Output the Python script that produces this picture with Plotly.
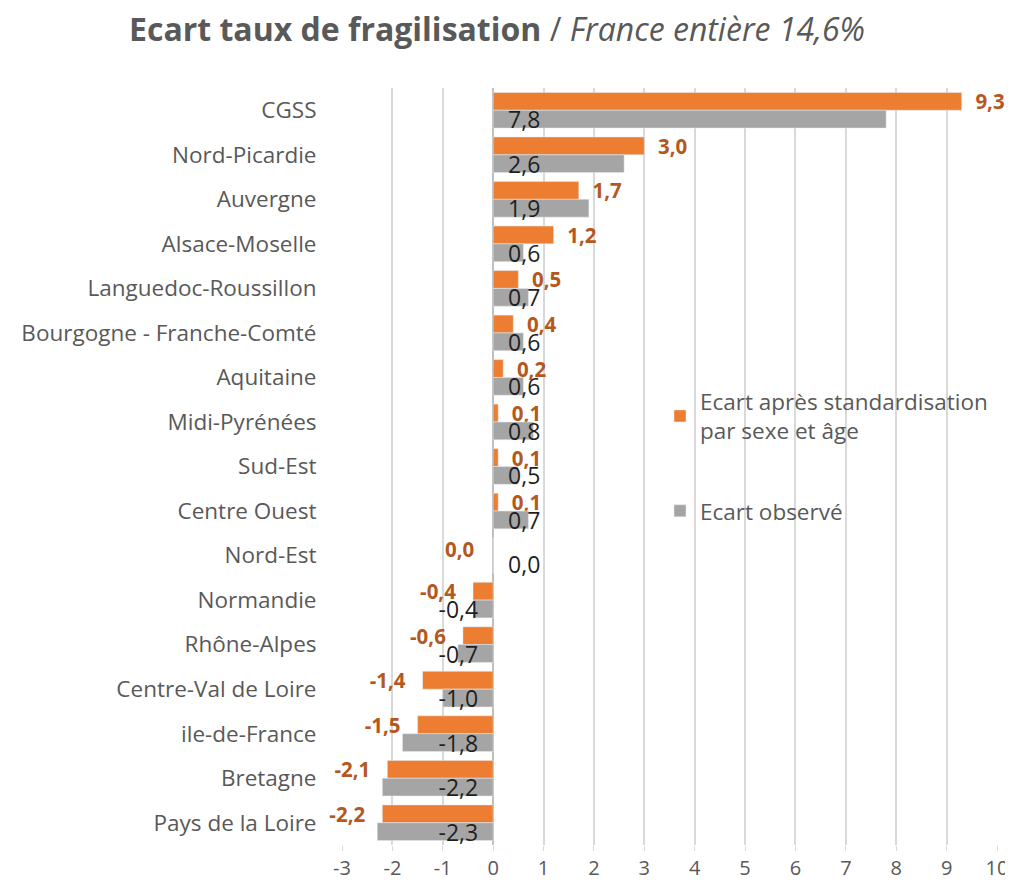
import plotly.graph_objects as go

categories = ["CGSS", "Nord-Picardie", "Auvergne", "Alsace-Moselle", "Languedoc-Roussillon",
              "Bourgogne - Franche-Comté", "Aquitaine", "Midi-Pyrénées", "Sud-Est", "Centre Ouest",
              "Nord-Est", "Normandie", "Rhône-Alpes", "Centre-Val de Loire", "ile-de-France",
              "Bretagne", "Pays de la Loire"]
ecart_standardise = [9.3, 3.0, 1.7, 1.2, 0.5, 0.4, 0.2, 0.1, 0.1, 0.1, 0.0,
                     -0.4, -0.6, -1.4, -1.5, -2.1, -2.2]
ecart_observe = [7.8, 2.6, 1.9, 0.6, 0.7, 0.6, 0.6, 0.8, 0.5, 0.7, 0.0,
                 -0.4, -0.7, -1.0, -1.8, -2.2, -2.3]
x_ticks = list(range(-3, 11))

FONT = "Open Sans"
GREY_TXT = "#595959"
ORANGE_TXT = "#B4581E"
NB = "\u00a0"


def fmt(v):
    return f"{v:.1f}".replace(".", ",")


# observed labels: inside, at the bar base (zero value -> outside, to the right)
text_obs = [(NB * 2 + fmt(v)) if v >= 0 else fmt(v) + NB * 2 for v in ecart_observe]
pos_obs = ["outside" if v == 0 else "inside" for v in ecart_observe]

# standardised labels: outside the bar end; a zero value is written on the left (annotation)
text_std = []
for v in ecart_standardise:
    if v > 0:
        text_std.append(NB * 2 + fmt(v))
    elif v < 0:
        text_std.append(fmt(v) + NB * 2 + "\u2009")
    else:
        text_std.append("")

fig = go.Figure()
fig.add_trace(go.Bar(
    y=categories, x=ecart_standardise, orientation="h",
    name="Ecart après standardisation<br>par sexe et âge",
    marker_color="#ED7D31", text=text_std, textposition="outside",
    constraintext="none", cliponaxis=False,
    textfont=dict(family=FONT, size=20.5, color=ORANGE_TXT, weight="bold"),
    legendgroup="a", legendrank=1,
))
fig.add_trace(go.Bar(
    y=categories, x=ecart_observe, orientation="h", name="Ecart observé",
    marker_color="#A5A5A5", text=text_obs, textposition=pos_obs,
    insidetextanchor="start", constraintext="none", cliponaxis=False,
    textfont=dict(family=FONT, size=23, color="#1f1f1f"),
    legendgroup="b", legendrank=2,
))

annotations = []
for cat, v in zip(categories, ecart_standardise):
    if v == 0:
        annotations.append(dict(
            x=v, y=cat, xref="x", yref="y", text="<b>" + fmt(v) + "</b>",
            showarrow=False, xanchor="right", yanchor="middle", xshift=-17, yshift=7,
            font=dict(family=FONT, size=20.5, color=ORANGE_TXT),
        ))

fig.update_layout(
    width=1005, height=876,
    paper_bgcolor="white", plot_bgcolor="white",
    barmode="group", bargap=0.2, bargroupgap=0,
    margin=dict(l=334, r=16, t=80, b=39, autoexpand=False),
    font=dict(family=FONT, color=GREY_TXT),
    title=dict(
        text="<b>Ecart taux de fragilisation</b> / <i>France entière 14,6%</i>",
        x=0.4866, xanchor="center", y=0.975, yanchor="middle",
        font=dict(family=FONT, size=32, color=GREY_TXT),
    ),
    legend=dict(
        x=0.4855, xanchor="left", y=0.614, yanchor="top",
        font=dict(family=FONT, size=22.5, color=GREY_TXT),
        tracegroupgap=48, bgcolor="rgba(0,0,0,0)",
    ),
    annotations=annotations,
)
fig.update_xaxes(
    range=[-3, 10], tickvals=x_ticks, ticktext=[str(t) for t in x_ticks],
    showgrid=True, gridcolor="#D9D9D9", gridwidth=1.5,
    zeroline=True, zerolinecolor="#BFBFBF", zerolinewidth=1.5,
    ticks="outside", ticklen=5, tickcolor="#D9D9D9",
    tickfont=dict(family=FONT, size=20, color=GREY_TXT),
    showline=False, automargin=False,
)
fig.update_yaxes(
    categoryorder="array", categoryarray=categories, autorange="reversed",
    tickfont=dict(family=FONT, size=22.5, color=GREY_TXT),
    ticks="outside", ticklen=20, tickcolor="rgba(0,0,0,0)",
    showgrid=False, showline=False, automargin=False,
)

fig.write_html("out.html")
